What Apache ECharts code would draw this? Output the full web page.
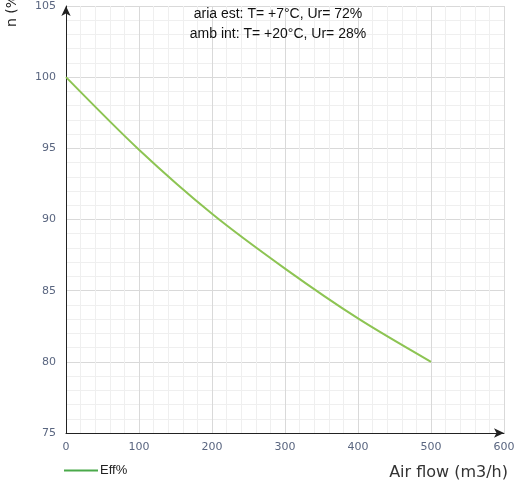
<!DOCTYPE html>
<html><head><meta charset="utf-8">
<script src="https://cdn.jsdelivr.net/npm/echarts@6/dist/echarts.min.js"></script>
<style>html,body{margin:0;padding:0;background:#fff}#c{width:518px;height:486px}</style>
</head><body><div id="c"></div>
<script>
var airFlow = [0, 100, 200, 300, 400, 500];
var effValues = [100, 94.9, 90.4, 86.55, 83.05, 80];
var seriesName = 'Eff%';
var titleLines = ['aria est: T= +7°C, Ur= 72%', 'amb int: T= +20°C, Ur= 28%'];

var chart = echarts.init(document.getElementById('c'), null, {renderer: 'canvas'});
var labelColor = '#5a6680';
chart.setOption({
  animation: false,
  grid: {left: 66, right: 14, top: 6, bottom: 53, containLabel: false},
  legend: {
    data: [{name: seriesName, icon: 'rect', itemStyle: {color: '#4aa94a'}}],
    left: 59, top: 459, itemWidth: 34, itemHeight: 2, itemGap: 2,
    textStyle: {fontFamily: 'Liberation Sans, Arial', fontSize: 13, color: '#222', padding: [0,0,0,-3]}
  },
  xAxis: {
    type: 'value', min: 0, max: 600, interval: 100,
    axisLine: {show: true, onZero: false, lineStyle: {color: '#222', width: 1}, symbol: ['none', 'arrow'], symbolSize: [7, 10]},
    axisTick: {show: false},
    axisLabel: {color: labelColor, fontSize: 11, fontFamily: 'DejaVu Sans', margin: 9},
    splitLine: {show: true, lineStyle: {color: '#d9d9d9', width: 1}},
    minorTick: {show: false, splitNumber: 5},
    minorSplitLine: {show: true, lineStyle: {color: '#efefef', width: 1}}
  },
  yAxis: {
    type: 'value', min: 75, max: 105, interval: 5,
    axisLine: {show: true, onZero: false, lineStyle: {color: '#222', width: 1}, symbol: ['none', 'arrow'], symbolSize: [7, 10]},
    axisTick: {show: false},
    axisLabel: {color: labelColor, fontSize: 11, fontFamily: 'DejaVu Sans', margin: 10},
    splitLine: {show: true, lineStyle: {color: '#d9d9d9', width: 1}},
    minorTick: {show: false, splitNumber: 5},
    minorSplitLine: {show: true, lineStyle: {color: '#efefef', width: 1}}
  },
  graphic: [
    {type: 'text', z: 100, x: 278, y: 7, style: {text: titleLines[0], textAlign: 'center', fontFamily: 'Liberation Sans, Arial', fontSize: 14, fill: '#111'}},
    {type: 'text', z: 100, x: 278, y: 27, style: {text: titleLines[1], textAlign: 'center', fontFamily: 'Liberation Sans, Arial', fontSize: 14, fill: '#111'}},
    {type: 'text', z: 100, x: 5, y: 27, rotation: Math.PI / 2, style: {text: 'n (%)', fontFamily: 'DejaVu Sans', fontSize: 14, fill: '#222', textAlign: 'left', textVerticalAlign: 'top'}},
    {type: 'text', z: 100, x: 508, y: 465, style: {text: 'Air flow (m3/h)', textAlign: 'right', fontFamily: 'DejaVu Sans', fontSize: 16, fill: '#333'}}
  ],
  series: [{
    name: seriesName, type: 'line', smooth: 0.3, showSymbol: false,
    data: airFlow.map(function (x, i) { return [x, effValues[i]]; }),
    lineStyle: {color: '#8dc453', width: 2},
    itemStyle: {color: '#8dc453'}
  }]
});
</script></body></html>
